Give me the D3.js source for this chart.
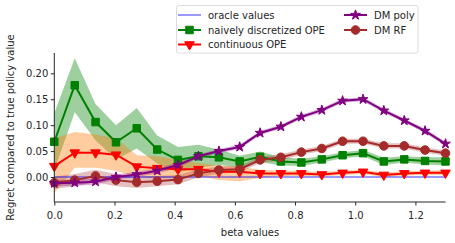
<!DOCTYPE html>
<html>
<head>
<meta charset="utf-8">
<script src="https://cdn.jsdelivr.net/npm/d3@7"></script>
<style>
  body { margin: 0; background: #fff; }
  text { font-family: "DejaVu Sans", sans-serif; }
</style>
</head>
<body>
<svg id="chart" width="455" height="243"></svg>
<script>
var betas = [0, 0.068, 0.137, 0.205, 0.274, 0.342, 0.411, 0.479, 0.547, 0.616,
             0.684, 0.753, 0.821, 0.889, 0.958, 1.026, 1.095, 1.163, 1.232, 1.3];

var oracle = [0, 0, 0, 0, 0, 0, 0, 0, 0, 0, 0, 0, 0, 0, 0, 0, 0, 0, 0, 0];

var naive = [0.068, 0.177, 0.106, 0.067, 0.094, 0.053, 0.033, 0.040, 0.038, 0.030,
             0.039, 0.030, 0.028, 0.034, 0.042, 0.046, 0.030, 0.034, 0.031, 0.030];
var naiveErr = [0.055, 0.052, 0.035, 0.033, 0.039, 0.027, 0.025, 0.022, 0.015, 0.011,
                0.010, 0.008, 0.007, 0.006, 0.006, 0.006, 0.007, 0.006, 0.007, 0.008];

var continuous = [0.021, 0.047, 0.047, 0.043, 0.020, 0.017, 0.015, 0.015, 0.010, 0.010,
                  0.007, 0.007, 0.007, 0.005, 0.008, 0.010, 0.004, 0.007, 0.008, 0.008];
var continuousLo = [-0.031, 0.018, 0.018, 0.012, 0.000, -0.003, -0.002, 0.002, -0.006, -0.008,
                    -0.002, 0.002, 0.002, 0.001, 0.004, 0.006, 0.000, 0.003, 0.004, 0.004];
var continuousHi = [0.075, 0.087, 0.082, 0.075, 0.042, 0.040, 0.034, 0.027, 0.022, 0.020,
                    0.014, 0.012, 0.012, 0.009, 0.012, 0.014, 0.008, 0.011, 0.012, 0.013];

var dmPoly = [-0.012, -0.011, -0.009, 0.000, 0.005, 0.012, 0.023, 0.040, 0.050, 0.058,
              0.085, 0.097, 0.116, 0.129, 0.147, 0.150, 0.128, 0.109, 0.089, 0.064];
var dmPolyErr = [0.006, 0.006, 0.006, 0.005, 0.005, 0.005, 0.005, 0.004, 0.004, 0.004,
                 0.004, 0.004, 0.004, 0.004, 0.004, 0.004, 0.004, 0.004, 0.004, 0.004];

var dmRF = [-0.011, -0.006, 0.002, -0.006, -0.010, -0.008, -0.005, 0.007, 0.0135, 0.015,
            0.033, 0.038, 0.048, 0.055, 0.069, 0.069, 0.060, 0.060, 0.052, 0.046];
var dmRFErr = [0.012, 0.012, 0.012, 0.012, 0.011, 0.010, 0.009, 0.008, 0.007, 0.006,
               0.006, 0.006, 0.005, 0.005, 0.005, 0.005, 0.005, 0.005, 0.005, 0.005];

var xTicks = [0, 0.2, 0.4, 0.6, 0.8, 1.0, 1.2];
var yTicks = [0, 0.05, 0.10, 0.15, 0.20];

var svg = d3.select('#chart');
var x = d3.scaleLinear().domain([0, 1.3]).range([54.3, 445.5]);
var y = d3.scaleLinear().domain([-0.0482, 0.2392]).range([202, 53]);

function pts(vals) {
  return vals.map(function(v, i) { return [betas[i], v]; });
}
var line = d3.line().x(function(d) { return x(d[0]); }).y(function(d) { return y(d[1]); });
var area = d3.area()
  .x(function(d) { return x(d.x); })
  .y0(function(d) { return y(d.lo); })
  .y1(function(d) { return y(d.hi); });

function band(lo, hi, color, op) {
  var d = betas.map(function(b, i) { return {x: b, lo: lo[i], hi: hi[i]}; });
  svg.append('path').attr('d', area(d)).attr('fill', color).attr('fill-opacity', op);
}
function sub(a, e) { return a.map(function(v, i) { return v - e[i]; }); }
function add(a, e) { return a.map(function(v, i) { return v + e[i]; }); }

// bands
band(sub(naive, naiveErr), add(naive, naiveErr), 'green', 0.38);
band(continuousLo, continuousHi, '#ff7f0e', 0.4);
band(sub(dmRF, dmRFErr), add(dmRF, dmRFErr), 'brown', 0.3);
band(sub(dmPoly, dmPolyErr), add(dmPoly, dmPolyErr), 'purple', 0.3);

var series = [
  {name: 'oracle values', vals: oracle, color: 'blue', op: 0.4, marker: null},
  {name: 'naively discretized OPE', vals: naive, color: 'green', op: 1, marker: d3.symbolSquare, size: 56},
  {name: 'continuous OPE', vals: continuous, color: 'red', op: 1, marker: d3.symbolTriangle, size: 40, rot: 180},
  {name: 'DM RF', vals: dmRF, color: 'brown', op: 1, marker: d3.symbolCircle, size: 58},
  {name: 'DM poly', vals: dmPoly, color: 'purple', op: 1, marker: d3.symbolStar, size: 30}
];

series.forEach(function(s) {
  svg.append('path').attr('d', line(pts(s.vals)))
    .attr('fill', 'none').attr('stroke', s.color).attr('stroke-opacity', s.op)
    .attr('stroke-width', 2);
  if (s.marker) {
    svg.append('g').selectAll('path')
      .data(pts(s.vals))
      .join('path')
      .attr('d', d3.symbol().type(s.marker).size(s.size))
      .attr('transform', function(d) {
        return 'translate(' + x(d[0]) + ',' + y(d[1]) + ')' + (s.rot ? ' rotate(' + s.rot + ')' : '');
      })
      .attr('fill', s.color).attr('stroke', s.color).attr('stroke-width', 1);
  }
});

// axes
var xAxis = svg.append('g').attr('transform', 'translate(0,202)')
  .call(d3.axisBottom(x).tickValues(xTicks).tickFormat(d3.format('.1f')).tickSizeOuter(0).tickSize(3.5));
var yAxis = svg.append('g').attr('transform', 'translate(54.3,0)')
  .call(d3.axisLeft(y).tickValues(yTicks).tickFormat(d3.format('.2f')).tickSizeOuter(0).tickSize(3.5));
[xAxis, yAxis].forEach(function(a) {
  a.selectAll('text').attr('font-size', 10).attr('font-family', 'DejaVu Sans').attr('fill', '#262626');
  a.selectAll('line').attr('stroke', '#262626');
  a.select('.domain').attr('stroke', '#262626');
});
xAxis.selectAll('text').attr('dy', '1.05em');
yAxis.selectAll('text').attr('x', -6);
yAxis.select('.domain').attr('d', 'M0,53V202');
xAxis.select('.domain').attr('d', 'M54.3,0H445.5');

svg.append('text').attr('x', 250).attr('y', 235.5).attr('text-anchor', 'middle')
  .attr('font-size', 10).attr('fill', '#262626').text('beta values');
svg.append('text').attr('transform', 'translate(14,127.5) rotate(-90)').attr('text-anchor', 'middle')
  .attr('font-size', 10).attr('fill', '#262626').text('Regret compared to true policy value');

// legend
var lg = svg.append('g');
lg.append('rect').attr('x', 176.5).attr('y', 5.5).attr('width', 241.5).attr('height', 47.5)
  .attr('rx', 2).attr('fill', 'white').attr('fill-opacity', 0.8).attr('stroke', '#dcdcdc');
var legendOrder = [
  {s: series[0], lx: 178, ly: 15},
  {s: series[1], lx: 178, ly: 30},
  {s: series[2], lx: 178, ly: 44.5},
  {s: series[4], lx: 344, ly: 15},
  {s: series[3], lx: 344, ly: 30}
];
legendOrder.forEach(function(e) {
  var s = e.s;
  lg.append('line').attr('x1', e.lx).attr('x2', e.lx + 23).attr('y1', e.ly).attr('y2', e.ly)
    .attr('stroke', s.color).attr('stroke-opacity', s.op).attr('stroke-width', 2);
  if (s.marker) {
    lg.append('path').attr('d', d3.symbol().type(s.marker).size(s.size))
      .attr('transform', 'translate(' + (e.lx + 11.5) + ',' + e.ly + ')' + (s.rot ? ' rotate(' + s.rot + ')' : ''))
      .attr('fill', s.color).attr('stroke', s.color);
  }
  lg.append('text').attr('x', e.lx + 30).attr('y', e.ly + 3.6).attr('font-size', 10)
    .attr('fill', '#262626').text(s.name);
});
</script>
</body>
</html>
